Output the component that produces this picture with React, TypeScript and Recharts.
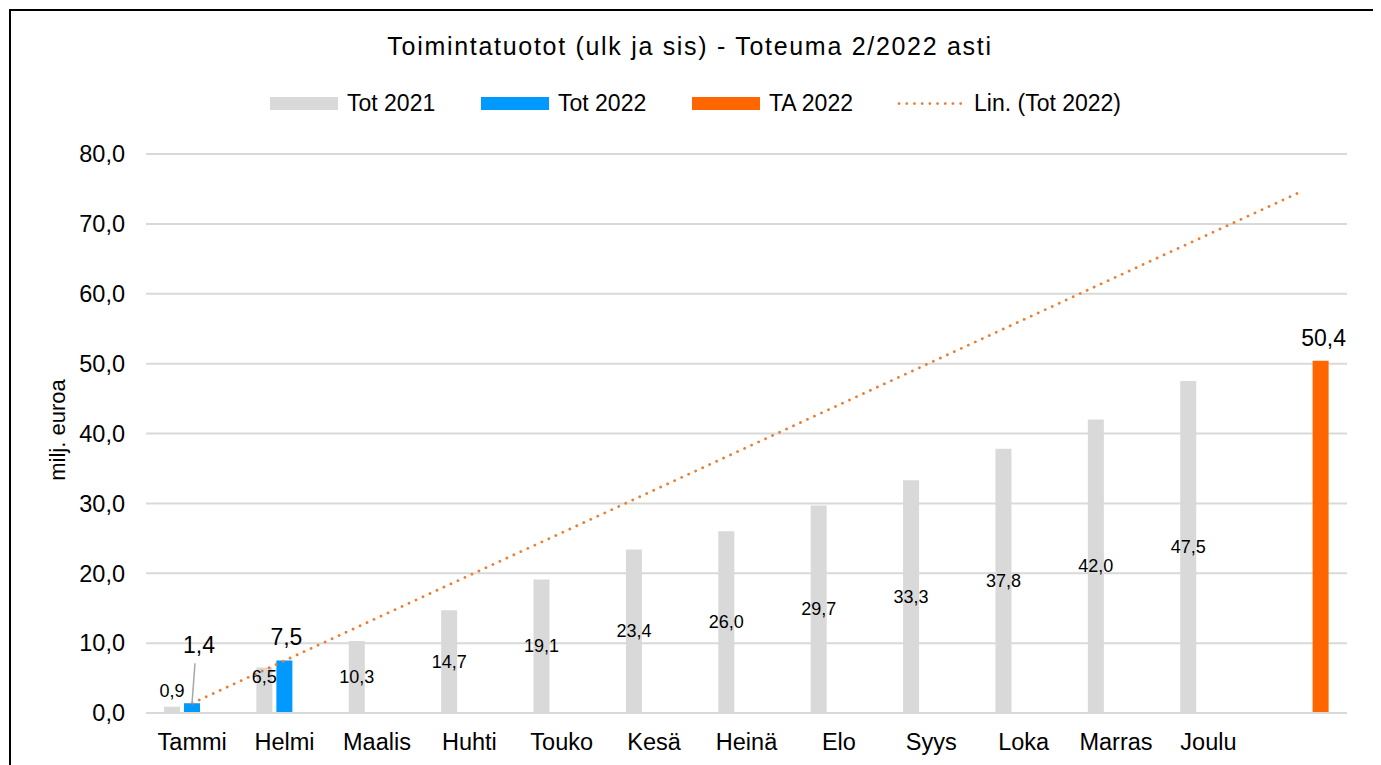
import React from 'react';
import { ComposedChart, Bar, Line, XAxis, YAxis, CartesianGrid, LabelList } from 'recharts';

const months = ['Tammi', 'Helmi', 'Maalis', 'Huhti', 'Touko', 'Kesä', 'Heinä', 'Elo', 'Syys', 'Loka', 'Marras', 'Joulu', ''];
const tot2021 = [0.9, 6.5, 10.3, 14.7, 19.1, 23.4, 26.0, 29.7, 33.3, 37.8, 42.0, 47.5, null];
const tot2022 = [1.4, 7.5, null, null, null, null, null, null, null, null, null, null, null];
const ta2022 = [null, null, null, null, null, null, null, null, null, null, null, null, 50.4];
const trend2022 = [1.4, null, null, null, null, null, null, null, null, null, null, null, 74.6];
const yTicks = [0, 10, 20, 30, 40, 50, 60, 70, 80];
const seriesNames = ['Tot 2021', 'Tot 2022', 'TA 2022', 'Lin. (Tot 2022)'];

const FONT = '"Liberation Sans", Arial, sans-serif';
const GRAY = '#D9D9D9';
const BLUE = '#0099FF';
const ORANGE = '#FF6600';
const TREND = '#ED7D31';

const fmt = (v: number) => v.toFixed(1).replace('.', ',');

const data = months.map((name, i) => ({
  name,
  tot2021: tot2021[i],
  tot2022: tot2022[i],
  ta2022: ta2022[i],
  trend: trend2022[i],
}));

function GrayLabel(props: any) {
  const { x, y, width, height, value, index } = props;
  if (value == null) return null;
  let cy = y + height / 2;
  if (index === 0) cy = y - 16;
  if (index === 1) cy = y + 9;
  return (
    <text x={x + width / 2} y={cy} textAnchor="middle" dominantBaseline="central" fontSize={18} fill="#000" fontFamily={FONT}>
      {fmt(value)}
    </text>
  );
}

function BlueLabel(props: any) {
  const { x, y, width, value, index } = props;
  if (value == null) return null;
  const cx = x + width / 2;
  if (index === 0) {
    return (
      <g>
        <line x1={cx} y1={y} x2={cx + 3} y2={y - 40} stroke="#A6A6A6" strokeWidth={1.5} />
        <text x={cx + 7} y={y - 58} textAnchor="middle" dominantBaseline="central" fontSize={23} fill="#000" fontFamily={FONT}>
          {fmt(value)}
        </text>
      </g>
    );
  }
  return (
    <text x={cx + 2} y={y - 23.5} textAnchor="middle" dominantBaseline="central" fontSize={23} fill="#000" fontFamily={FONT}>
      {fmt(value)}
    </text>
  );
}

function OrangeLabel(props: any) {
  const { x, y, width, value } = props;
  if (value == null) return null;
  return (
    <text x={x + width / 2 + 3} y={y - 23} textAnchor="middle" dominantBaseline="central" fontSize={23} fill="#000" fontFamily={FONT}>
      {fmt(value)}
    </text>
  );
}

const legendX = [259, 470, 681, 886];
const legendColors = [GRAY, BLUE, ORANGE, TREND];

function Overlay() {
  return (
    <svg width={1362} height={766} style={{ position: 'absolute', left: 0, top: 0, pointerEvents: 'none' }}>
      <text x={679} y={43.5} textAnchor="middle" fontSize={25} letterSpacing={1.7} fill="#000" fontFamily={FONT}>
        Toimintatuotot (ulk ja sis) - Toteuma 2/2022 asti
      </text>
      {seriesNames.map((n, i) => (
        <g key={n}>
          {i < 3 ? (
            <rect x={legendX[i]} y={86} width={68} height={13} fill={legendColors[i]} />
          ) : (
            <line x1={legendX[i] + 2} y1={92.5} x2={legendX[i] + 66} y2={92.5} stroke={TREND} strokeWidth={2.75} strokeDasharray="0.1 7.6" strokeLinecap="round" />
          )}
          <text x={legendX[i] + 77} y={100} fontSize={23} fill="#000" fontFamily={FONT}>
            {n}
          </text>
        </g>
      ))}
      <text
        x={46}
        y={419}
        transform="rotate(-90 46 419)"
        textAnchor="middle"
        dominantBaseline="central"
        fontSize={22}
        fill="#000"
        fontFamily={FONT}
      >
        milj. euroa
      </text>
    </svg>
  );
}

export default function App() {
  return (
    <div
      style={{
        position: 'relative',
        left: 1,
        top: 1,
        width: 1366,
        height: 770,
        boxSizing: 'border-box',
        border: '2px solid #000',
        background: '#fff',
        fontFamily: FONT,
      }}
    >
      <ComposedChart
        width={1362}
        height={760}
        data={data}
        margin={{ top: 143, right: 26, bottom: 18, left: 60 }}
        barGap={4}
        barSize={16}
      >
        <CartesianGrid vertical={false} stroke={GRAY} strokeWidth={2} />
        <XAxis
          dataKey="name"
          interval={0}
          height={40}
          tickLine={false}
          tickSize={0}
          tickMargin={20}
          axisLine={{ stroke: GRAY, strokeWidth: 2 }}
          tick={{ fontSize: 23.5, fill: '#000', fontFamily: FONT }}
        />
        <YAxis
          width={75}
          domain={[0, 80]}
          ticks={yTicks}
          interval={0}
          tickFormatter={fmt}
          axisLine={false}
          tickLine={false}
          tickSize={0}
          tickMargin={21}
          tick={{ fontSize: 23.5, fill: '#000', fontFamily: FONT }}
        />
        <Bar dataKey="tot2021" fill={GRAY} barSize={16} isAnimationActive={false}>
          <LabelList dataKey="tot2021" content={GrayLabel} />
        </Bar>
        <Bar dataKey="tot2022" fill={BLUE} barSize={16} isAnimationActive={false}>
          <LabelList dataKey="tot2022" content={BlueLabel} />
        </Bar>
        <Bar dataKey="ta2022" fill={ORANGE} barSize={16} isAnimationActive={false}>
          <LabelList dataKey="ta2022" content={OrangeLabel} />
        </Bar>
        <Line
          dataKey="trend"
          connectNulls
          dot={false}
          activeDot={false}
          stroke={TREND}
          strokeWidth={2.75}
          strokeDasharray="0.1 7.6"
          strokeLinecap="round"
          isAnimationActive={false}
        />
      </ComposedChart>
      <Overlay />
    </div>
  );
}
